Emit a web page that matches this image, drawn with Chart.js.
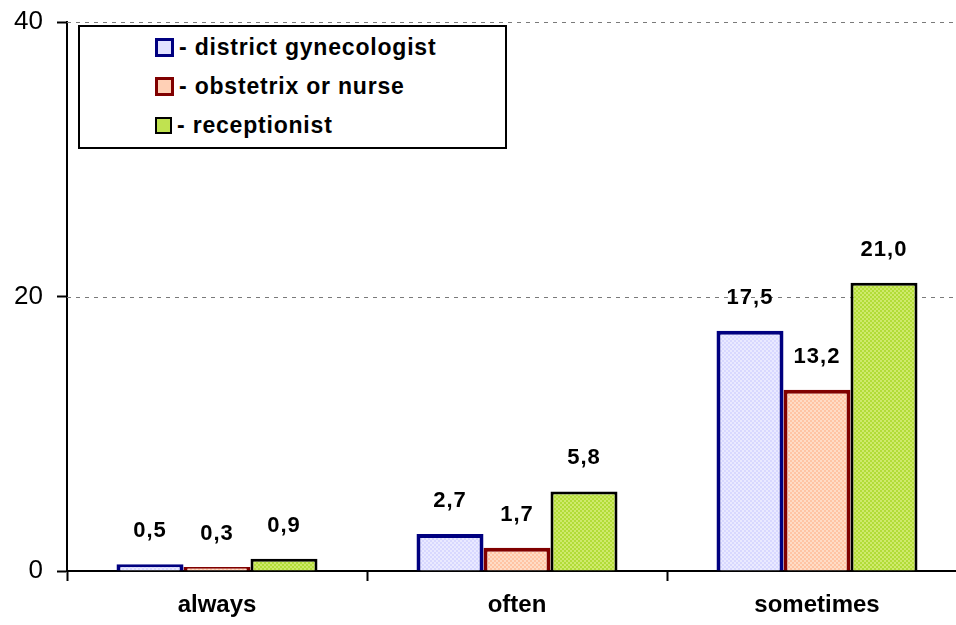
<!DOCTYPE html>
<html>
<head>
<meta charset="utf-8">
<script src="https://cdn.jsdelivr.net/npm/chart.js@4/dist/chart.umd.min.js"></script>
<style>
  body { margin: 0; overflow: hidden; background: #fff; font-family: "Liberation Sans", Arial, sans-serif; }
  #wrap { position: relative; width: 967px; height: 625px; }
  #legend {
    position: absolute; left: 78px; top: 25px; width: 425px; height: 120px;
    border: 2px solid #000; background: #fff;
  }
  .item { position: absolute; left: 75px; height: 24px; display: flex; align-items: center; }
  .swatch { width: 13px; height: 13px; border: 3px solid #000; margin-right: 5px; }
  .item span { font-weight: bold; font-size: 23px; letter-spacing: 0.8px; color: #000; }
</style>
</head>
<body>
<div id="wrap">
  <canvas id="chart" width="967" height="625"></canvas>
  <div id="legend"></div>
</div>
<script>
const categories = ['always', 'often', 'sometimes'];
const seriesNames = ['district gynecologist', 'obstetrix or nurse', 'receptionist'];
const gynecologistValues = [0.5, 2.7, 17.5];
const nurseValues = [0.3, 1.7, 13.2];
const receptionistValues = [0.9, 5.8, 21.0];
const yTickValues = [0, 20, 40];

// small checker patterns like the old office fills
function makePattern(c1, c2) {
    const p = document.createElement('canvas');
    p.width = 4; p.height = 4;
    const g = p.getContext('2d');
    g.fillStyle = c1; g.fillRect(0, 0, 4, 4);
    g.fillStyle = c2;
    g.fillRect(0, 0, 2, 2);
    g.fillRect(2, 2, 2, 2);
    return g.createPattern(p, 'repeat');
}
const fills = [
    makePattern('#D8D8FF', '#EAEAFF'),
    makePattern('#FFC4A4', '#FFDCC6'),
    makePattern('#B2DC38', '#CFEA6C')
];
const swatchFills = ['#E2E2FF', '#FFD0B6', '#C0E250'];
const borders = ['#000080', '#800000', '#000000'];

// legend box drawn as html on top of the plot area
const legend = document.getElementById('legend');
seriesNames.forEach((name, i) => {
    const row = document.createElement('div');
    row.className = 'item';
    row.style.top = (8 + i * 39) + 'px';
    const sw = document.createElement('div');
    sw.className = 'swatch';
    sw.style.background = swatchFills[i];
    sw.style.borderColor = borders[i];
    if (i === 2) sw.style.borderWidth = '2px';
    const txt = document.createElement('span');
    txt.textContent = '- ' + name;
    row.appendChild(sw);
    row.appendChild(txt);
    legend.appendChild(row);
});

const dashedGrid = {
    id: 'dashedGrid',
    beforeDatasetsDraw(chart) {
        const { ctx, chartArea, scales } = chart;
        ctx.save();
        ctx.strokeStyle = '#7a7a7a';
        ctx.lineWidth = 1;
        ctx.setLineDash([4, 5]);
        yTickValues.forEach(v => {
            if (v === 0) return;
            const y = Math.round(scales.y.getPixelForValue(v)) + 0.5;
            ctx.beginPath();
            ctx.moveTo(chartArea.left, y);
            ctx.lineTo(chartArea.right, y);
            ctx.stroke();
        });
        ctx.restore();
    }
};

const valueLabels = {
    id: 'valueLabels',
    afterDatasetsDraw(chart) {
        const ctx = chart.ctx;
        ctx.save();
        ctx.font = 'bold 22px "Liberation Sans", Arial, sans-serif';
        ctx.letterSpacing = '1px';
        ctx.fillStyle = '#000';
        ctx.textAlign = 'center';
        ctx.textBaseline = 'middle';
        chart.data.datasets.forEach((ds, i) => {
            chart.getDatasetMeta(i).data.forEach((bar, j) => {
                const txt = ds.data[j].toFixed(1).replace('.', ',');
                ctx.fillText(txt, bar.x, bar.y - 33);
            });
        });
        ctx.restore();
    }
};

const datasets = [gynecologistValues, nurseValues, receptionistValues].map((vals, i) => ({
    label: seriesNames[i],
    data: vals,
    backgroundColor: fills[i],
    borderColor: borders[i],
    borderWidth: i === 2 ? 3 : 4,
    borderSkipped: 'bottom',
    categoryPercentage: 0.67,
    barPercentage: 1.0
}));

new Chart(document.getElementById('chart'), {
    type: 'bar',
    data: { labels: categories, datasets: datasets },
    options: {
        responsive: false,
        animation: false,
        layout: { padding: { top: 22, left: 0, right: 0, bottom: 0 } },
        plugins: {
            legend: { display: false },
            tooltip: { enabled: false }
        },
        scales: {
            x: {
                grid: {
                    offset: true,
                    drawOnChartArea: false,
                    drawTicks: true,
                    tickLength: 10,
                    tickColor: '#000',
                    tickWidth: 2
                },
                border: { color: '#000', width: 2 },
                ticks: {
                    color: '#000',
                    padding: 10,
                    font: { family: '"Liberation Sans", Arial, sans-serif', size: 24, weight: 'bold' }
                },
                afterFit(scale) { scale.height = 54; }
            },
            y: {
                min: 0,
                max: 40,
                afterBuildTicks(scale) { scale.ticks = yTickValues.map(v => ({ value: v })); },
                grid: {
                    drawOnChartArea: false,
                    drawTicks: true,
                    tickLength: 10,
                    tickColor: '#000',
                    tickWidth: 2
                },
                border: { color: '#000', width: 2 },
                ticks: {
                    color: '#000',
                    padding: 14,
                    font: { family: '"Liberation Sans", Arial, sans-serif', size: 26 }
                },
                afterFit(scale) {
                    scale.width = 67;
                    // keep the top of the plot at the layout padding
                    scale.paddingTop = 0;
                    scale.paddingBottom = 0;
                }
            }
        }
    },
    plugins: [dashedGrid, valueLabels]
});
</script>
</body>
</html>
